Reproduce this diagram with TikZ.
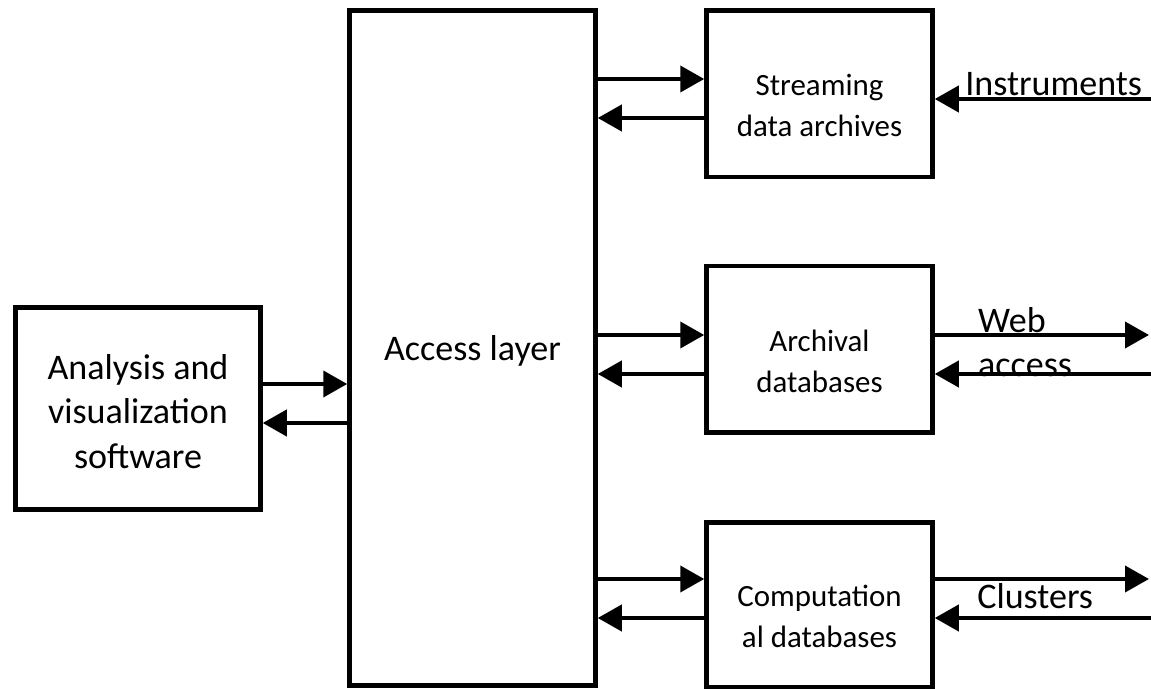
\documentclass[tikz,border=0pt]{standalone}
\usepackage{fontspec}
\setmainfont{Carlito}
\usetikzlibrary{arrows.meta}

\begin{document}
\begin{tikzpicture}[y=-1cm]
  \def\srcstrut{\rule{0pt}{9mm}}
  \tikzset{
    bigbox/.style={draw, line width=0.9mm, align=center, inner sep=2pt,
                   font=\fontsize{20.5pt}{25.5pt}\selectfont},
    srcbox/.style={draw, line width=0.9mm, align=center, inner sep=2pt,
                   minimum width=4.52cm, minimum height=3.33cm,
                   font=\fontsize{17.6pt}{23.3pt}\selectfont},
    flow/.style={line width=0.8mm, -{Triangle[length=4.8mm, width=5.2mm]}},
    extlabel/.style={inner sep=0pt, font=\fontsize{20.5pt}{25pt}\selectfont},
  }
  \useasboundingbox (0,0) rectangle (23.02,13.78);
  %
  %%% LEFT SIDE %%%
  \node[bigbox, minimum width=4.9cm, minimum height=4.04cm] (ana) at (2.76, 8.17)
    {\rule{0pt}{6.2mm}Analysis and\\visualization\\software};
  \node[bigbox, minimum width=4.92cm, minimum height=13.5cm] (acc) at (9.45, 6.96)
    {\rule{0pt}{6.2mm}Access layer};
  %
  \coordinate (anaOut)  at ([yshift=4.9mm]ana.east);
  \coordinate (anaBack) at ([yshift=-2.9mm]ana.east);
  \draw[flow] (anaOut) -- (acc.west |- anaOut);
  \draw[flow] (acc.west |- anaBack) -- (anaBack);
  %
  %%% RIGHT SIDE %%%
  \node[srcbox] (str) at (16.39, 1.88)  {\srcstrut Streaming\\data archives};
  \node[srcbox] (arc) at (16.39, 6.985) {\srcstrut Archival\\databases};
  \node[srcbox, minimum height=3.3cm] (cmp) at (16.39, 12.1) {\srcstrut Computation\\al databases};
  %
  % arrows between the access layer and the data sources
  \foreach \b/\up/\dn in {str/3mm/-4.8mm, arc/2.85mm/-4.95mm, cmp/5.2mm/-2.6mm} {
    \coordinate (\b-in)  at ([yshift=\up]\b.west);
    \coordinate (\b-out) at ([yshift=\dn]\b.west);
    \draw[flow] (acc.east |- \b-in) -- (\b-in);
    \draw[flow] (\b-out) -- (acc.east |- \b-out);
  }
  %
  % --- Instruments ---
  \coordinate (instr) at ([yshift=-1mm]str.east);
  \coordinate (instrEnd) at (23.02, 0 |- instr);
  \draw[flow] (instrEnd) -- (instr);
  \node[extlabel, anchor=base west] (instrLbl) at (19.3, 1.92) {Instruments};
  %
  % --- Web access ---
  \coordinate (webOut) at ([yshift=2.85mm]arc.east);
  \coordinate (webIn)  at ([yshift=-4.95mm]arc.east);
  \coordinate (webOutEnd) at (22.98, 0 |- webOut);
  \coordinate (webInEnd)  at (23.02, 0 |- webIn);
  \draw[flow] (webOut) -- (webOutEnd);
  \draw[flow] (webInEnd) -- (webIn);
  \node[extlabel, align=left] (webLbl) at (20.5, 6.85) {Web\\access};
  %
  % --- Clusters ---
  \coordinate (cluOut) at ([yshift=5.2mm]cmp.east);
  \coordinate (cluIn)  at ([yshift=-2.6mm]cmp.east);
  \coordinate (cluOutEnd) at (22.98, 0 |- cluOut);
  \coordinate (cluInEnd)  at (23.02, 0 |- cluIn);
  \draw[flow] (cluOut) -- (cluOutEnd);
  \draw[flow] (cluInEnd) -- (cluIn);
  \node[extlabel, anchor=base west] (cluLbl) at (19.54, 12.18) {Clusters};
\end{tikzpicture}
\end{document}
